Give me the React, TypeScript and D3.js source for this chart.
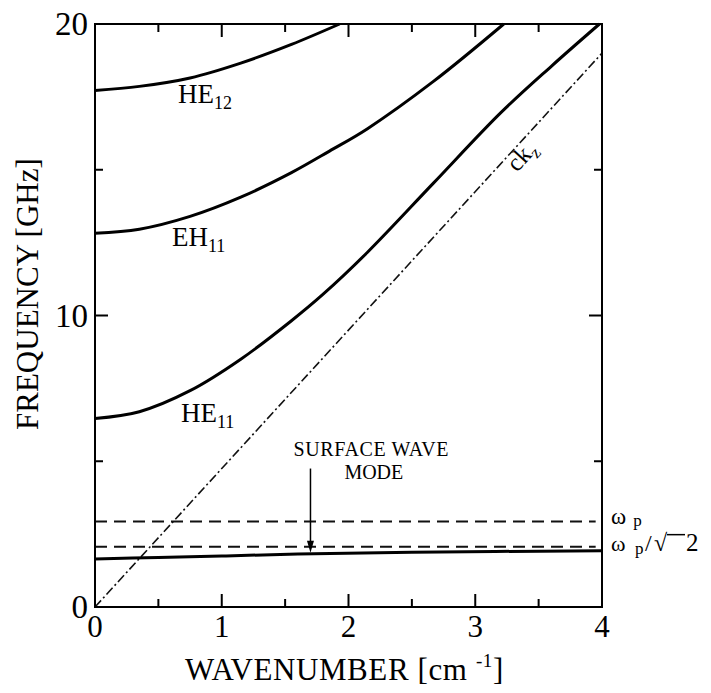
import React from "react";
import * as d3 from "d3";

// dispersion curves (k in cm^-1, f in GHz)
const he12K = [0, 0.35, 0.75, 1.15, 1.55, 1.93];
const he12F = [17.72, 17.86, 18.15, 18.66, 19.3, 20];
const eh11K = [0, 0.35, 0.75, 1.15, 1.55, 1.85, 2.15, 2.67, 3.225];
const eh11F = [12.82, 12.96, 13.4, 14.06, 14.9, 15.64, 16.41, 18.03, 20];
const he11K = [0, 0.35, 0.75, 1.15, 1.55, 1.8, 2.15, 2.67, 3.2, 3.6, 3.98];
const he11F = [6.47, 6.7, 7.42, 8.5, 9.82, 10.73, 12.17, 14.54, 16.95, 18.55, 20];
const surfK = [0, 0.5, 1, 1.6, 2.5, 4];
const surfF = [1.65, 1.7, 1.75, 1.82, 1.88, 1.93];
const lightK = [0, 4];
const lightF = [0, 19.0];
const omegaP = 2.93;
const omegaP2 = 2.07;
const arrowK = 1.7;
const arrowFrom = 4.75;
const arrowTo = 1.86;

const xTicksMajor = [0, 1, 2, 3, 4];
const xTicksMinor = [0.5, 1.5, 2.5, 3.5];
const yTicksMajor = [0, 10, 20];
const yTicksMinor = [5, 15];

const W = 711, H = 693;
const margin = { left: 95, top: 24, right: 109, bottom: 86 };
const FONT = "'Liberation Serif', 'Times New Roman', serif";

const zip = (ks, fs) => ks.map((k, i) => [k, fs[i]]);

const App = () => {
  const ref = React.useRef(null);

  React.useEffect(() => {
    const svg = d3.select(ref.current);
    svg.selectAll("*").remove();
    const iw = W - margin.left - margin.right;
    const ih = H - margin.top - margin.bottom;
    const x = d3.scaleLinear([0, 4], [margin.left, margin.left + iw]);
    const y = d3.scaleLinear([0, 20], [margin.top + ih, margin.top]);

    svg.append("rect").attr("width", W).attr("height", H).attr("fill", "#fff");

    const line = d3.line().x(d => x(d[0])).y(d => y(d[1])).curve(d3.curveCatmullRom.alpha(0.5));

    // dashed plasma lines
    [omegaP, omegaP2].forEach(v => {
      svg.append("line")
        .attr("x1", x(0)).attr("x2", x(3.95))
        .attr("y1", y(v)).attr("y2", y(v))
        .attr("stroke", "#111").attr("stroke-width", 2)
        .attr("stroke-dasharray", "12 7");
    });

    // light line
    svg.append("path").datum(zip(lightK, lightF))
      .attr("d", d3.line().x(d => x(d[0])).y(d => y(d[1])))
      .attr("fill", "none").attr("stroke", "#111").attr("stroke-width", 1.6)
      .attr("stroke-dasharray", "9 3 2 3");

    // mode curves
    [zip(he12K, he12F), zip(eh11K, eh11F), zip(he11K, he11F), zip(surfK, surfF)].forEach(d => {
      svg.append("path").datum(d).attr("d", line)
        .attr("fill", "none").attr("stroke", "#000").attr("stroke-width", 3);
    });

    // arrow
    svg.append("line")
      .attr("x1", x(arrowK)).attr("x2", x(arrowK))
      .attr("y1", y(arrowFrom)).attr("y2", y(arrowTo) - 8)
      .attr("stroke", "#000").attr("stroke-width", 1.5);
    svg.append("path")
      .attr("d", `M${x(arrowK)},${y(arrowTo)} l-3.5,-12 l7,0 z`)
      .attr("fill", "#000");

    // frame
    svg.append("rect")
      .attr("x", margin.left).attr("y", margin.top).attr("width", iw).attr("height", ih)
      .attr("fill", "none").attr("stroke", "#000").attr("stroke-width", 2);

    const g = svg.append("g").attr("stroke", "#000").attr("stroke-width", 2);
    const xt = (ticks, len) => ticks.forEach(t => {
      g.append("line").attr("x1", x(t)).attr("x2", x(t)).attr("y1", y(0)).attr("y2", y(0) - len);
      g.append("line").attr("x1", x(t)).attr("x2", x(t)).attr("y1", y(20)).attr("y2", y(20) + len);
    });
    const yt = (ticks, len) => ticks.forEach(t => {
      g.append("line").attr("y1", y(t)).attr("y2", y(t)).attr("x1", x(0)).attr("x2", x(0) + len);
      g.append("line").attr("y1", y(t)).attr("y2", y(t)).attr("x1", x(4)).attr("x2", x(4) - len);
    });
    xt(xTicksMajor, 13); xt(xTicksMinor, 8);
    yt(yTicksMajor, 13); yt(yTicksMinor, 8);

    const txt = svg.append("g").attr("font-family", FONT).attr("fill", "#000");

    xTicksMajor.forEach(t => {
      txt.append("text").attr("x", x(t)).attr("y", y(0) + 30)
        .attr("text-anchor", "middle").attr("font-size", 31).text(t);
    });
    yTicksMajor.forEach(t => {
      txt.append("text").attr("x", x(0) - 7).attr("y", y(t) + 11)
        .attr("text-anchor", "end").attr("font-size", 33).text(t);
    });

    // axis titles
    const xl = txt.append("text").attr("x", 185).attr("y", 680).attr("font-size", 31)
      .attr("letter-spacing", 0.6);
    xl.append("tspan").text("WAVENUMBER [cm ");
    xl.append("tspan").attr("font-size", 19).attr("dy", -13).text("-1");
    xl.append("tspan").attr("dy", 13).text("]");

    txt.append("text").attr("transform", "translate(38,430) rotate(-90)")
      .attr("font-size", 31).text("FREQUENCY [GHz]");

    // mode labels
    const modeLabel = (k, f, main, sub) => {
      const t = txt.append("text").attr("x", x(k)).attr("y", y(f)).attr("font-size", 27);
      t.append("tspan").text(main);
      t.append("tspan").attr("font-size", 18).attr("dy", 6).text(sub);
    };
    modeLabel(0.655, 17.29, "HE", "12");
    modeLabel(0.607, 12.38, "EH", "11");
    modeLabel(0.678, 6.35, "HE", "11");

    txt.append("text").attr("x", x(2.18)).attr("y", y(5.17)).attr("text-anchor", "middle")
      .attr("font-size", 20).attr("letter-spacing", 0.6).text("SURFACE WAVE");
    txt.append("text").attr("x", x(2.2)).attr("y", y(4.4)).attr("text-anchor", "middle")
      .attr("font-size", 20).text("MODE");

    // light line label
    const ck = txt.append("text").attr("transform", "translate(517,173) rotate(-47.5)").attr("font-size", 25);
    ck.append("tspan").text("ck");
    ck.append("tspan").attr("font-size", 17).attr("dy", 5).text("z");

    // plasma frequency labels
    const wp = txt.append("text").attr("x", 611).attr("y", y(omegaP) + 2).attr("font-size", 23);
    wp.append("tspan").text("ω");
    wp.append("tspan").attr("font-size", 17).attr("dx", 7).attr("dy", 2).text("p");

    const by = y(omegaP2) + 4;
    txt.append("text").attr("x", 611).attr("y", by).attr("font-size", 22).text("ω");
    txt.append("text").attr("x", 635).attr("y", by + 3).attr("font-size", 17).text("p");
    txt.append("text").attr("x", 645).attr("y", by).attr("font-size", 24).text("/");
    txt.append("text").attr("x", 654).attr("y", by).attr("font-size", 24).text("√");
    svg.append("line").attr("x1", 667).attr("x2", 685).attr("y1", by - 16).attr("y2", by - 16)
      .attr("stroke", "#000").attr("stroke-width", 1.5);
    txt.append("text").attr("x", 686).attr("y", by).attr("font-size", 25).text("2");
  }, []);

  return <svg ref={ref} width={W} height={H} style={{ position: "absolute", left: 0, top: 0 }} />;
};

export default App;
